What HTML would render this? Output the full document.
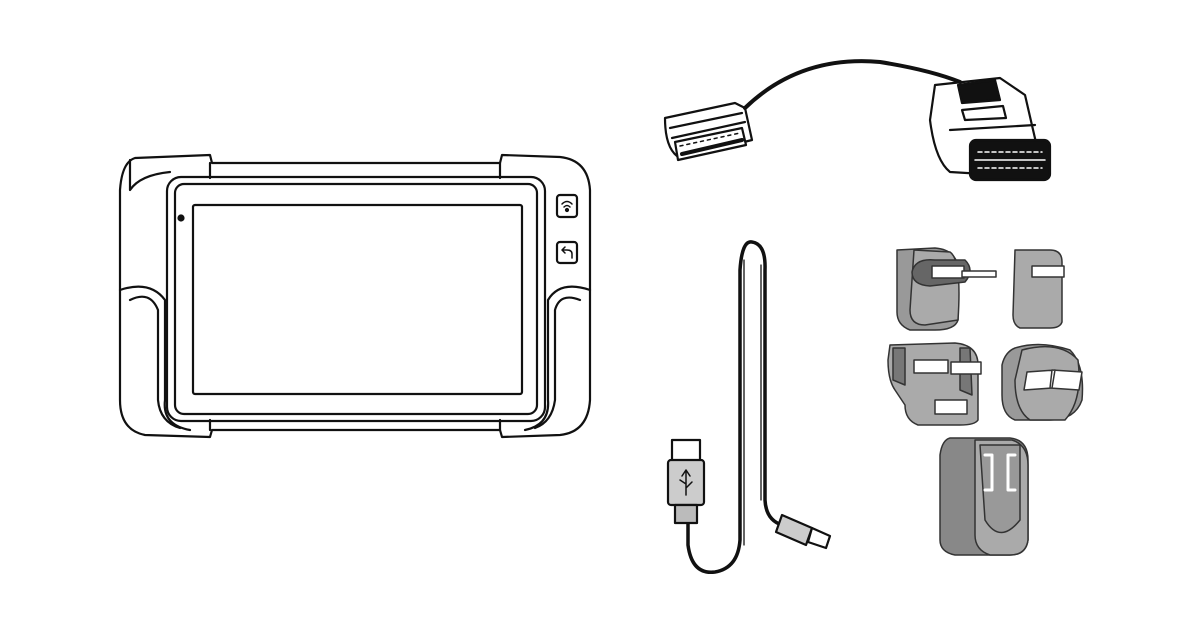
<!DOCTYPE html>
<html><head><style>html,body{margin:0;padding:0;background:#fff;width:1200px;height:630px;overflow:hidden}</style></head>
<body>
<svg width="1200" height="630" viewBox="0 0 1200 630" xmlns="http://www.w3.org/2000/svg" fill="none" stroke="#111" stroke-width="2.2" stroke-linejoin="round" stroke-linecap="round">
<!-- Tablet -->
<path d="M135 158 L210 155 L212 163 L500 163 L502 155 L560 157 Q588 160 590 190 L590 400 Q588 432 560 435 L502 437 L500 430 L212 430 L210 437 L145 435 Q120 430 120 400 L120 190 Q122 162 135 158 Z"/>
<path d="M130 160 L130 190 Q140 175 170 172"/>
<path d="M120 290 Q150 280 165 300 L165 400 Q162 425 190 430"/>
<path d="M130 300 Q150 290 158 310 L158 400 Q160 422 180 428"/>
<path d="M590 290 Q560 280 548 300 L548 400 Q550 425 525 430"/>
<path d="M580 300 Q560 292 555 310 L555 400 Q552 422 535 428"/>
<path d="M210 163 L210 178 M500 163 L500 178 M210 430 L210 420 M500 430 L500 420"/>
<rect x="167" y="177" width="378" height="244" rx="14"/>
<rect x="175" y="184" width="362" height="230" rx="9"/>
<rect x="193" y="205" width="329" height="189" rx="2"/>
<circle cx="181" cy="218" r="2.5" fill="#111"/>
<rect x="557" y="195" width="20" height="22" rx="3"/>
<rect x="557" y="242" width="20" height="21" rx="3"/>
<path d="M562 204 Q567 199 572 204 M564 207 Q567 204 570 207" stroke-width="1.5"/>
<circle cx="567" cy="210" r="1" fill="#111"/>
<path d="M572 258 L572 254 Q572 250 567 250 L562 250 M565 247 L562 250 L565 253" stroke-width="1.5"/>
<!-- OBD cable -->
<path d="M745 108 Q800 55 880 62 Q930 70 960 82" stroke-width="4"/>
<path d="M665 118 L735 103 L745 108 L752 140 L680 158 Q665 150 665 118 Z"/>
<path d="M670 128 L742 113 M672 138 L745 122"/>
<path d="M675 142 L742 128 L746 145 L678 160 Z" fill="#fff"/>
<path d="M680 146 L740 133" stroke-dasharray="3 4" stroke-width="1.5"/>
<path d="M682 154 L742 140" stroke-width="4"/>
<path d="M935 85 L1000 78 L1025 95 L1040 160 L1000 175 L950 172 Q935 160 930 120 Z"/>
<path d="M958 85 L995 80 L1000 100 L962 103 Z" fill="#111"/>
<path d="M962 110 L1003 106 L1006 118 L965 120 Z"/>
<path d="M950 130 L1035 125"/>
<rect x="970" y="140" width="80" height="40" rx="6" fill="#111"/>
<path d="M978 152 L1042 152 M978 168 L1042 168" stroke="#fff" stroke-dasharray="4 3" stroke-width="1.5"/>
<path d="M975 160 L1045 160" stroke="#fff" stroke-width="1.5"/>
<!-- USB cable -->
<path d="M688 485 L688 545 Q692 575 715 572 Q738 568 740 540 L740 270 Q742 240 752 242 Q766 244 765 270 L765 500 Q766 520 782 525" stroke-width="3.5"/>
<path d="M744 260 L744 545 M761 265 L761 500" stroke-width="1.3"/>
<rect x="672" y="440" width="28" height="22" fill="#fff"/>
<rect x="668" y="460" width="36" height="45" rx="3" fill="#ccc"/>
<rect x="675" y="505" width="22" height="18" fill="#bbb"/>
<path d="M686 470 L686 495 M686 470 L682 476 M686 470 L690 476 M686 488 L692 482 M686 484 L680 480" stroke-width="1.5"/>
<path d="M782 515 L812 528 L806 545 L776 532 Z" fill="#ccc"/>
<path d="M812 528 L830 536 L826 548 L808 542 Z" fill="#fff"/>
<!-- Adapters -->
<g stroke="#333" stroke-width="1.5">
<path d="M897 250 L935 248 Q960 250 958 275 L958 320 Q955 330 935 330 L910 330 Q897 325 897 312 Z" fill="#999"/>
<path d="M914 250 L950 252 Q962 260 958 320 L925 325 Q910 325 910 310 Z" fill="#aaa"/>
<path d="M912 272 Q915 258 935 260 L965 260 Q975 270 965 282 L930 286 Q912 285 912 272 Z" fill="#666"/>
<rect x="932" y="266" width="32" height="12" fill="#fff"/>
<rect x="962" y="271" width="34" height="6" fill="#fff"/>
<path d="M1015 250 L1050 250 Q1062 250 1062 262 L1062 322 Q1060 328 1050 328 L1020 328 Q1013 325 1013 315 Z" fill="#aaa"/>
<rect x="1032" y="266" width="32" height="11" fill="#fff"/>
<path d="M890 345 L955 343 Q978 345 978 365 L978 420 Q975 425 960 425 L918 425 Q905 420 905 405 L895 390 Q888 380 888 360 Z" fill="#aaa"/>
<path d="M893 348 L905 348 L905 385 L893 380 Z M960 348 L970 348 L972 395 L960 390 Z" fill="#777"/>
<rect x="914" y="360" width="34" height="13" fill="#fff"/>
<rect x="951" y="362" width="30" height="12" fill="#fff"/>
<rect x="935" y="400" width="32" height="14" fill="#fff"/>
<path d="M1015 348 Q1040 340 1070 350 Q1085 365 1082 400 Q1075 420 1050 420 L1015 420 Q1002 415 1002 395 L1002 365 Q1005 352 1015 348 Z" fill="#999"/>
<path d="M1022 350 Q1060 340 1078 360 Q1083 400 1065 420 L1030 420 Q1015 410 1015 380 Z" fill="#aaa"/>
<path d="M1027 372 L1055 370 L1052 388 L1024 390 Z M1052 370 L1082 372 L1079 390 L1050 388 Z" fill="#fff"/>
<path d="M950 438 L1010 438 Q1028 440 1028 460 L1028 540 Q1026 555 1010 555 L955 555 Q940 552 940 540 L940 455 Q942 440 950 438 Z" fill="#888"/>
<path d="M975 440 L1012 440 Q1028 445 1028 465 L1028 540 Q1026 555 1010 555 L990 555 Q975 550 975 535 Z" fill="#aaa"/>
<path d="M980 445 L1020 445 L1020 520 Q1000 545 985 520 Z" fill="#999"/>
<path d="M985 455 L992 455 L992 490 L985 490 M1015 455 L1008 455 L1008 490 L1015 490" stroke="#fff" stroke-width="3"/>
</g>
</svg>
</body></html>
